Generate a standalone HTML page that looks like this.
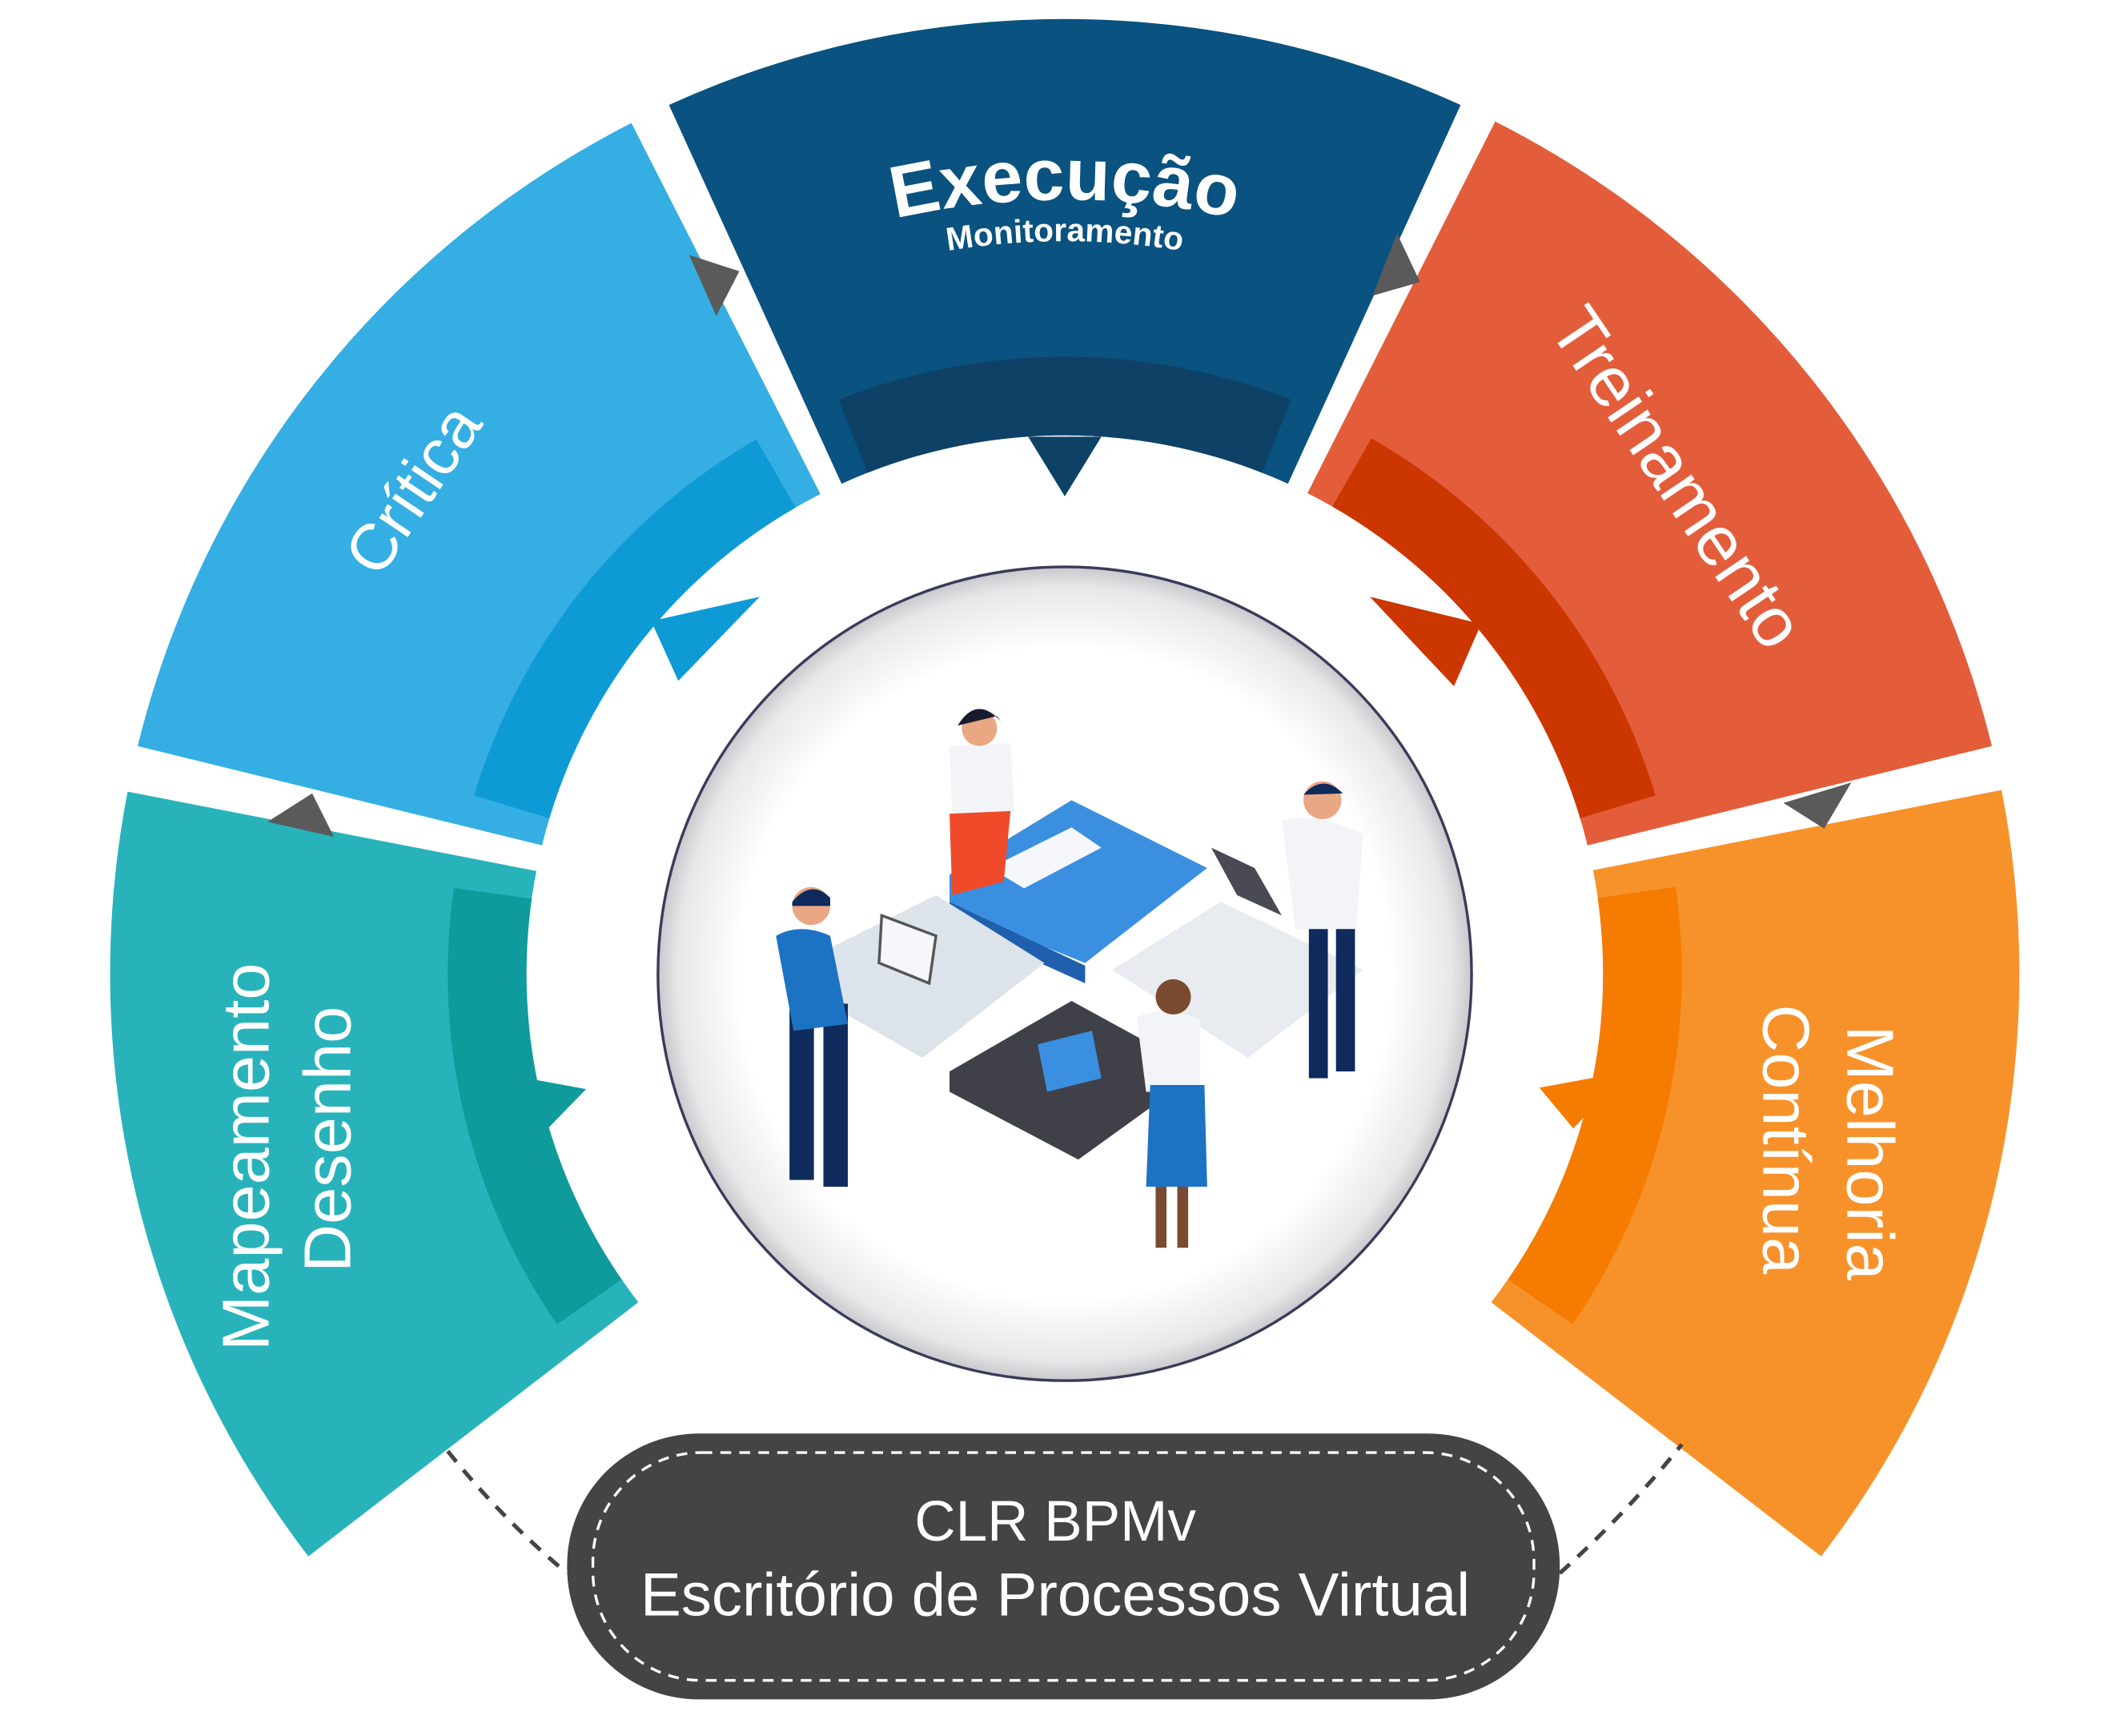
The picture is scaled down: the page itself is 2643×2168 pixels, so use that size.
<!DOCTYPE html>
<html><head><meta charset="utf-8">
<style>
html,body{margin:0;padding:0;background:#fff;}
svg{display:block;}
text{font-family:"Liberation Sans",sans-serif;}
</style></head>
<body>
<svg id="s" width="2643" height="2168" viewBox="0 0 1560 1280" xmlns="http://www.w3.org/2000/svg">
<defs>
<radialGradient id="cg" cx="50%" cy="50%" r="50%">
<stop offset="0.8" stop-color="#ffffff"/>
<stop offset="0.95" stop-color="#e8e8ea"/>
<stop offset="1" stop-color="#c9c9cd"/>
</radialGradient>
<path id="arcE" d="M 545 200 A 572 572 0 0 1 1025 200"/>
<path id="arcM" d="M 590 215 A 530 530 0 0 1 980 215"/>
</defs>
<g id="segs"></g>

<g fill="#5a5a5a">
<polygon points="508,188 545,200 528,233"/>
<polygon points="1030,172 1047,208 1012,218"/>
<polygon points="1315,592 1365,577 1345,611"/>
<polygon points="197,606 230,585 246,617"/>
</g>

<path d="M 330 1070 Q 370 1120 418 1160" fill="none" stroke="#444" stroke-width="3" stroke-dasharray="10,8"/>
<path d="M 1150 1160 Q 1200 1115 1240 1065" fill="none" stroke="#444" stroke-width="3" stroke-dasharray="10,8"/>

<circle cx="785" cy="718" r="300" fill="url(#cg)" stroke="#3a3a5a" stroke-width="2"/>

<g>
<polygon points="700,645 790,590 890,640 800,710 700,670" fill="#3b8fe0"/>
<polygon points="700,665 800,712 800,725 700,680" fill="#1f5fae"/>
<polygon points="610,700 690,660 770,710 680,780 610,740" fill="#dde3ea"/>
<polygon points="820,715 900,665 1005,715 920,780" fill="#e8ebef"/>
<polygon points="700,790 790,738 885,790 795,855 700,805" fill="#404049"/>
<polygon points="730,640 790,610 812,625 755,655" fill="#f5f7fa"/>
<g fill="#0f2a5c">
<rect x="582" y="740" width="18" height="130"/><rect x="607" y="740" width="18" height="135"/>
<rect x="965" y="680" width="14" height="115"/><rect x="985" y="680" width="14" height="110"/>
</g>
<path d="M572 690 Q590 680 612 690 L625 755 L585 760 Z" fill="#1c73c4"/>
<circle cx="598" cy="668" r="14" fill="#e9a883"/><path d="M584 665 Q598 648 612 662 L612 668 L584 668Z" fill="#0f2a5c"/>
<path d="M700 550 L745 548 L748 600 L702 604 Z" fill="#f2f4f8"/>
<path d="M700 600 L745 598 L740 650 L702 660 Z" fill="#ef4a2a"/>
<circle cx="722" cy="537" r="13" fill="#e9a883"/><path d="M706 535 Q720 512 738 532 L735 528 Z" fill="#1a1a2e"/>
<path d="M945 605 Q970 598 1005 615 L1000 685 L955 685 Z" fill="#f2f4f8"/>
<circle cx="975" cy="590" r="14" fill="#e9a883"/><path d="M961 586 Q975 570 990 585 Z" fill="#0f2a5c"/>
<polygon points="893,625 925,640 945,675 912,660" fill="#4a4a55"/>
<path d="M838 750 Q860 740 885 752 L885 805 L845 805 Z" fill="#f2f4f8"/>
<path d="M848 800 L888 800 L890 875 L845 875 Z" fill="#1c73c4"/>
<circle cx="865" cy="735" r="13" fill="#7a4a30"/>
<rect x="852" y="875" width="8" height="45" fill="#7a4a30"/><rect x="868" y="875" width="8" height="45" fill="#7a4a30"/>
<polygon points="765,770 805,760 812,795 772,805" fill="#3b8fe0"/>
<polygon points="650,675 690,690 685,725 648,710" fill="#f5f7fa" stroke="#555" stroke-width="2"/>
</g>

<rect x="418" y="1057" width="732" height="196" rx="97" fill="#444444"/>
<rect x="437" y="1071" width="694" height="168" rx="80" fill="none" stroke="#ffffff" stroke-width="2" stroke-dasharray="8,6"/>
<text x="778" y="1136" font-size="42" fill="#fff" text-anchor="middle">CLR BPMv</text>
<text x="778" y="1191" font-size="45" fill="#fff" text-anchor="middle">Escritório de Processos Virtual</text>

<text font-size="54" fill="#fff" text-anchor="middle" font-weight="bold"><textPath href="#arcE" startOffset="50%">Execução</textPath></text>
<text font-size="24" fill="#fff" text-anchor="middle" font-weight="bold"><textPath href="#arcM" startOffset="50%">Monitoramento</textPath></text>
<text x="0" y="0" font-size="48" fill="#fff" text-anchor="middle" transform="translate(318,370) rotate(-56)">Crítica</text>
<text x="0" y="0" font-size="52" fill="#fff" text-anchor="middle" transform="translate(1222,362) rotate(56)">Treinamento</text>
<text x="0" y="0" font-size="49" fill="#fff" text-anchor="middle" transform="translate(1362,850) rotate(90)">Melhoria</text>
<text x="0" y="0" font-size="49" fill="#fff" text-anchor="middle" transform="translate(1300,840) rotate(90)">Contínua</text>
<text x="0" y="0" font-size="49" fill="#fff" text-anchor="middle" transform="translate(198,853) rotate(-90)">Mapeamento</text>
<text x="0" y="0" font-size="49" fill="#fff" text-anchor="middle" transform="translate(258,840) rotate(-90)">Desenho</text>
</svg>
<script>
(function(){
var cx=785,cy=718,R=704,RI=397,RB=455;
function pt(a,r){var t=a*Math.PI/180;return [(cx+r*Math.sin(t)).toFixed(1),(cy-r*Math.cos(t)).toFixed(1)];}
function sector(a1,a2,r1,r2){
 var p1=pt(a1,r2),p2=pt(a2,r2),p3=pt(a2,r1),p4=pt(a1,r1);
 return "M"+p1+" A"+r2+" "+r2+" 0 0 1 "+p2+" L"+p3+" A"+r1+" "+r1+" 0 0 0 "+p4+" Z";
}
var segs=[
 [-24.5,24.5,"#0a527f","#0d4266"],
 [26.8,76.2,"#e35d3b","#cc3600"],
 [78.9,127.6,"#f7922a","#f57c00"],
 [-127.6,-79,"#28b3bb","#0f9a9c"],
 [-76.2,-27,"#35aee3","#0e9bd5"]
];
var g=document.getElementById("segs"),h="";
segs.forEach(function(s){
 h+='<path d="'+sector(s[0],s[1],RI,R)+'" fill="'+s[2]+'"/>';
 h+='<path d="'+sector(s[0]+3,s[1]-3,RI,RB)+'" fill="'+s[3]+'"/>';
});
h+='<polygon points="758,322 812,322 785,366" fill="#0d4266"/>';
h+='<polygon points="480,458 560,440 500,502" fill="#0e9bd5"/>';
h+='<polygon points="1092,460 1010,440 1072,506" fill="#cc3600"/>';
h+='<polygon points="1135,802 1200,790 1160,832" fill="#f57c00"/>';
h+='<polygon points="388,795 432,803 400,836 360,800" fill="#0f9a9c"/>';
g.innerHTML=h;
})();
</script>
</body></html>
